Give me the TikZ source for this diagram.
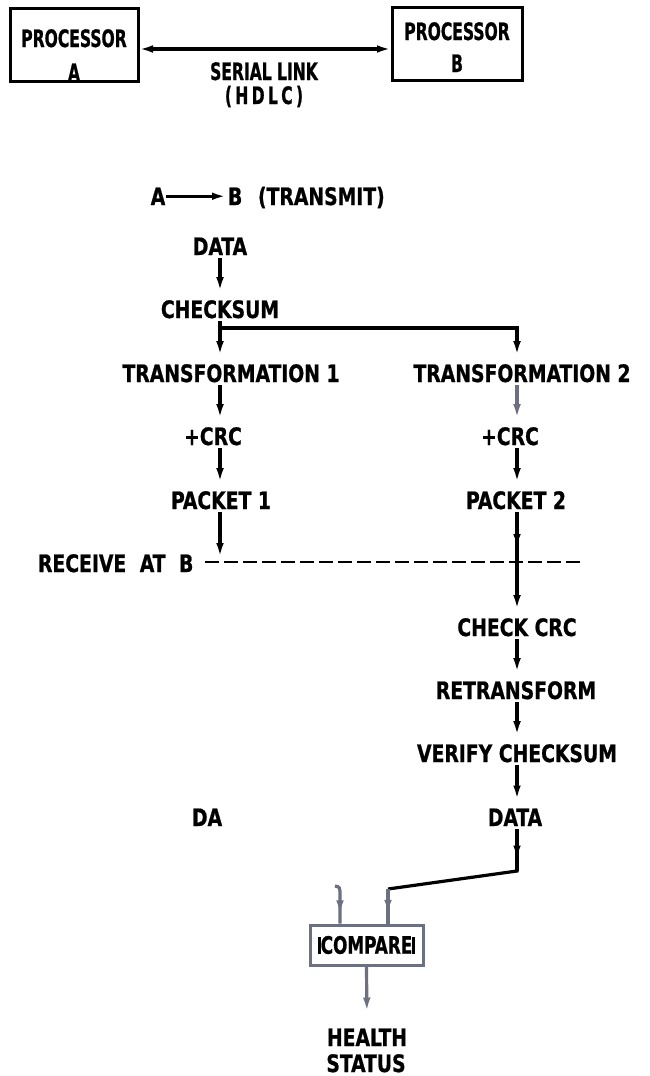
\documentclass[tikz,border=0pt]{standalone}
\usepackage{fontspec}
\setmainfont{DejaVu Sans Condensed}[FakeStretch=0.87,BoldFeatures={FakeBold=0.8}]
\newfontfamily\narrowfont{DejaVu Sans Condensed}[FakeStretch=0.72,BoldFeatures={FakeBold=0.8}]
\newfontfamily\cmpfont{DejaVu Sans Condensed}[FakeStretch=0.78,BoldFeatures={FakeBold=0.8}]
\usetikzlibrary{arrows.meta,decorations.markings}
\definecolor{cgray}{RGB}{108,112,128}
\begin{document}
\begin{tikzpicture}[x=1pt,y=-1pt,
  lbl/.style={font=\fontsize{24}{26}\selectfont\bfseries, inner sep=0pt, outer sep=0pt, anchor=base},
  nlbl/.style={lbl, font=\fontsize{24}{26}\selectfont\narrowfont\bfseries},
  lblw/.style={lbl, anchor=base west},
  ln/.style={line width=3.2pt},
  tip/.tip={Latex[length=15pt,width=7.5pt]},
  conn/.style={ln, -tip, shorten <=3pt, shorten >=8pt},
  ar/.style={ln, postaction={decorate}, decoration={markings, mark=at position #1 with {\arrow{tip}}}},
  ar/.default=0.8,
  pbox/.style={draw, line width=3pt, minimum width=128pt, minimum height=73pt, inner sep=0pt, outer sep=0pt}
]
\useasboundingbox (0,0) rectangle (650,1076);

% processors
\node[pbox] (pa) at (74,44.5) {};
\node[pbox, minimum width=130pt] (pb) at (457,43.5) {};
\node[nlbl] (paT) at (74,47) {PROCESSOR};
\node[nlbl] (paA) at (74,81) {A};
\node[nlbl] (pbT) at (457,40) {PROCESSOR};
\node[nlbl] (pbB) at (457,72) {B};
\draw[ln, tip-tip] ([yshift=-4.5pt]pa.east) -- ([yshift=-5.5pt]pb.west);
\node[nlbl] (serial) at (264,80) {SERIAL LINK};
\node[nlbl] (hdlc) at (264,104) {\addfontfeature{LetterSpace=14}(HDLC)};

% transmit header
\node[lbl] (tA) at (158,205) {A};
\node[lblw] (tB) at (228,205) {B};
\node[lblw] (tx) at (258,205) {(TRANSMIT)};
\draw[ln, -tip, shorten <=1pt, shorten >=1pt] (tA.east) -- (tB.west);

% columns
\coordinate (cL) at (220,0);
\coordinate (cR) at (517,0);

\node[lbl] (data1) at (220,255) {DATA};
\node[lbl] (chk) at (220,318) {CHECKSUM};
\node[lbl] (t1) at (231,382) {TRANSFORMATION 1};
\node[lbl] (t2) at (522,382) {TRANSFORMATION 2};
\node[lbl] (crc1) at (213,445) {+CRC};
\node[lbl] (crc2) at (510,445) {+CRC};
\node[lbl] (p1) at (221,509) {PACKET 1};
\node[lbl] (p2) at (516,509) {PACKET 2};
\node[lblw] (recv) at (38,572) {RECEIVE\hspace{7pt} AT\hspace{7pt} B};
\node[lbl] (ccrc) at (517,636) {CHECK CRC};
\node[lbl] (retr) at (516,699) {RETRANSFORM};
\node[lbl] (ver) at (517,762) {VERIFY CHECKSUM};
\node[lbl] (data2) at (515,826) {DATA};
\node[lblw] (da) at (192,826) {DA};

\draw[conn] (data1.south -| cL) -- (chk.north -| cL);
\coordinate (br) at (220,328);
\coordinate (brR) at (517,328);
\draw[conn] (chk.south -| cL) -- (t1.north -| cL);
\draw[conn, shorten <=0pt] (br) -- (brR) -- (t2.north -| cR);
\draw[conn] (t1.south -| cL) -- (crc1.north -| cL);
\draw[conn, cgray] (t2.south -| cR) -- (crc2.north -| cR);
\draw[conn] (crc1.south -| cL) -- (p1.north -| cL);
\draw[conn] (crc2.south -| cR) -- (p2.north -| cR);

% receive line
\coordinate (dL) at (220,562);
\coordinate (dR) at (517,562);
\coordinate (dS) at (205,562);
\coordinate (dEnd) at (580,562);
\draw[line width=2.8pt, dash pattern=on 14pt off 5pt] (dS) -- (dEnd);
\draw[conn, shorten >=4pt] (p1.south -| cL) -- (dL);
\draw[conn, shorten >=13pt] (p2.south -| cR) -- (dR);
\draw[ln, shorten <=3pt] (p2.south -| cR) -- (dR);
\draw[conn, shorten <=0pt] (dR) -- (ccrc.north -| cR);
\draw[conn] (ccrc.south -| cR) -- (retr.north -| cR);
\draw[conn] (retr.south -| cR) -- (ver.north -| cR);
\draw[conn] (ver.south -| cR) -- (data2.north -| cR);

% compare
\node[draw=cgray, line width=3pt, minimum width=113pt, minimum height=40pt, inner sep=0pt,
      font=\fontsize{24}{26}\selectfont\cmpfont\bfseries] (cmp) at (366.5,945)
      {\rule[0pt]{2.5pt}{17pt}COMPARE\rule[0pt]{2.5pt}{17pt}};
\coordinate (k1) at (517,871);
\coordinate (k2) at (388,889);
\draw[ln, shorten <=3pt] (data2.south -| cR) -- (k1) -- (k2);
\draw[ar=0.75] ([yshift=-3pt]data2.south -| cR) -- (k1);
\draw[ar=0.75, cgray] (k2) -- (cmp.north -| k2);
\coordinate (h0) at (335,886);
\coordinate (h1) at (340,896);
\draw[ar=0.8, cgray] (h0) .. controls (340,887) .. (h1) -- (cmp.north -| h1);

\node[lbl] (health) at (367,1046) {HEALTH};
\node[lbl] (status) at (366,1072) {STATUS};
\draw[cgray, ln, -tip, shorten >=16pt] (cmp.south) -- (health.north);
\end{tikzpicture}
\end{document}
